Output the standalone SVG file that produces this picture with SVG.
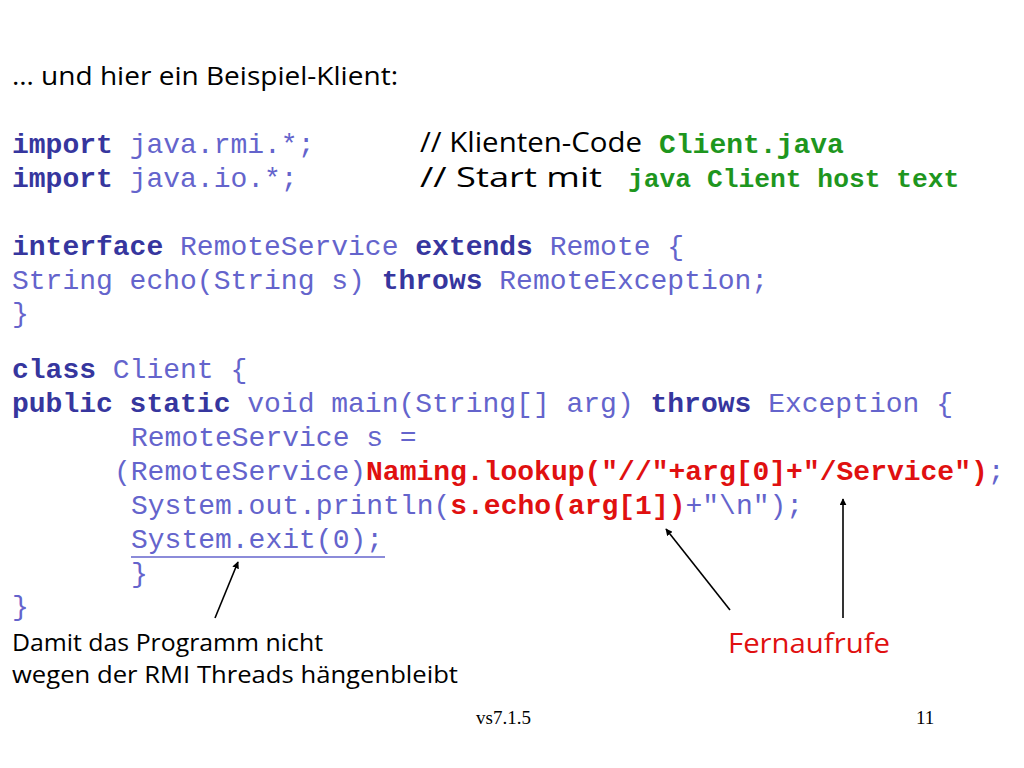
<svg xmlns="http://www.w3.org/2000/svg" width="1024" height="768" viewBox="0 0 1024 768">
<defs>
<style>
.c{font-family:"Liberation Mono","DejaVu Sans Mono",monospace;font-size:28px;fill:#6464cc;white-space:pre}
.k{font-weight:bold;fill:#36369e}
.r{font-weight:bold;fill:#e01010}
.g{font-weight:bold;fill:#1e961e}
.t{font-family:"Open Sans","Liberation Sans",sans-serif;font-size:25px;fill:#000}
.f{font-family:"Liberation Serif",serif;font-size:19px;fill:#000}
.ln{stroke:#000;stroke-width:1.6;fill:none}
</style>
<marker id="ah" viewBox="0 0 10 10" refX="9" refY="5" markerWidth="7" markerHeight="7" orient="auto" markerUnits="userSpaceOnUse">
<path d="M0,0 L10,5 L0,10 z" fill="#000"/>
</marker>
</defs>
<rect width="1024" height="768" fill="#fff"/>
<g id="title"><text class="t" x="12" y="85" style="font-size:26px" textLength="386" lengthAdjust="spacingAndGlyphs">… und hier ein Beispiel-Klient:</text></g>
<g id="code">
<text class="c" x="12" y="153"><tspan class="k">import</tspan> java.rmi.*;</text>
<text class="c" x="12" y="187"><tspan class="k">import</tspan> java.io.*;</text>
<text class="t" x="420" y="152" style="font-size:27px" textLength="222" lengthAdjust="spacingAndGlyphs">// Klienten-Code</text>
<text class="c g" x="659" y="153">Client.java</text>
<text class="t" x="420" y="187" style="font-size:27px" textLength="182" lengthAdjust="spacingAndGlyphs">// Start mit</text>
<text class="c g" x="628" y="187" style="font-size:26.3px">java Client host text</text>
<text class="c" x="12" y="255"><tspan class="k">interface</tspan> RemoteService <tspan class="k">extends</tspan> Remote {</text>
<text class="c" x="12" y="289">String echo(String s) <tspan class="k">throws</tspan> RemoteException;</text>
<text class="c" x="12" y="322">}</text>
<text class="c" x="12" y="378"><tspan class="k">class</tspan> Client {</text>
<text class="c" x="12" y="412"><tspan class="k">public static</tspan> void main(String[] arg) <tspan class="k">throws</tspan> Exception {</text>
<text class="c" x="131" y="446">RemoteService s =</text>
<text class="c" x="114" y="480">(RemoteService)<tspan class="r">Naming.lookup("//"+arg[0]+"/Service")</tspan>;</text>
<text class="c" x="131" y="514">System.out.println(<tspan class="r">s.echo(arg[1])</tspan>+"\n");</text>
<text class="c" x="131" y="548">System.exit(0);</text>
<line x1="131" y1="557" x2="385" y2="557" stroke="#6464cc" stroke-width="1.5"/>
<text class="c" x="131" y="582">}</text>
<text class="c" x="12" y="615">}</text>
</g>
<g id="connectors">
<line class="ln" x1="215" y1="618" x2="238" y2="562" marker-end="url(#ah)"/>
<line class="ln" x1="730" y1="610" x2="666" y2="529" marker-end="url(#ah)"/>
<line class="ln" x1="843" y1="618" x2="843" y2="499" marker-end="url(#ah)"/>
</g>
<g id="note1">
<text class="t" x="12" y="651" style="font-size:24px" textLength="311" lengthAdjust="spacingAndGlyphs">Damit das Programm nicht</text>
<text class="t" x="12" y="683" style="font-size:24px" textLength="446" lengthAdjust="spacingAndGlyphs">wegen der RMI Threads hängenbleibt</text>
</g>
<g id="note2"><text class="t" x="728" y="653" style="fill:#e01010;font-size:28px" textLength="162" lengthAdjust="spacingAndGlyphs">Fernaufrufe</text></g>
<g id="footer">
<text class="f" x="476" y="724">vs7.1.5</text>
<text class="f" x="916" y="724">11</text>
</g>
</svg>
